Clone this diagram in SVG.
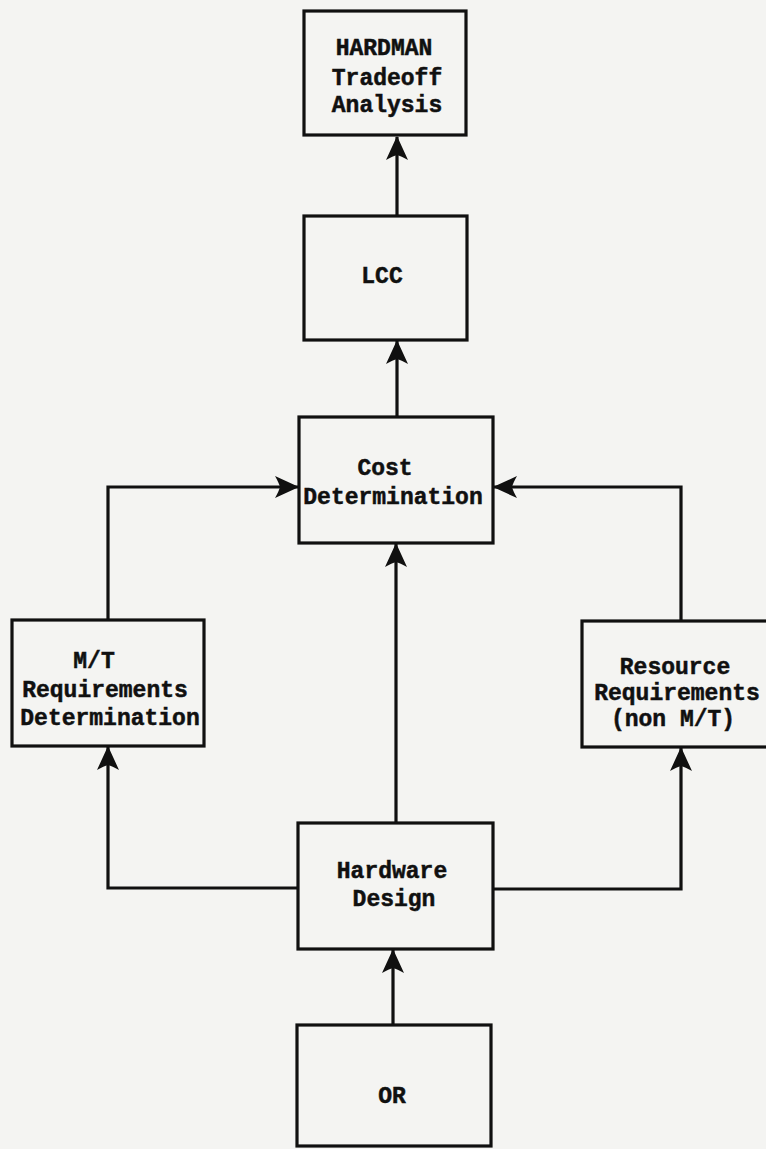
<svg xmlns="http://www.w3.org/2000/svg" width="766" height="1149" viewBox="0 0 766 1149">
  <style>
    .box { fill: none; stroke: #101010; stroke-width: 3.2; }
    .lbl { font-family: "Liberation Mono", "DejaVu Sans Mono", monospace; font-weight: bold; font-size: 23px; fill: #101010; stroke: #101010; stroke-width: 0.5; text-anchor: middle; }
    .wire { fill: none; stroke: #101010; stroke-width: 3.2; stroke-linejoin: miter; }
  </style>
  <defs>
    <!-- filled, slightly notched arrowhead used on every connector -->
    <marker id="head" viewBox="-25 -13 27 26" refX="0" refY="0" markerWidth="27" markerHeight="26" markerUnits="userSpaceOnUse" orient="auto">
      <path d="M1,0 L-23,-11 Q-19,-4 -18,0 Q-19,4 -23,11 Z" fill="#101010"/>
    </marker>
  </defs>
  <rect width="766" height="1149" fill="#f4f4f2"/>

  <g id="connectors">
    <path class="wire" d="M397,216 V137" marker-end="url(#head)"/>
    <path class="wire" d="M397,417 V341" marker-end="url(#head)"/>
    <path class="wire" d="M396,823 V544" marker-end="url(#head)"/>
    <path class="wire" d="M108,620 V487 H298" marker-end="url(#head)"/>
    <path class="wire" d="M681,621 V487 H494" marker-end="url(#head)"/>
    <path class="wire" d="M298,888 H108 V747" marker-end="url(#head)"/>
    <path class="wire" d="M493,889 H681 V748" marker-end="url(#head)"/>
    <path class="wire" d="M393,1025 V950" marker-end="url(#head)"/>
  </g>

  <g id="hardman">
    <rect class="box" x="304" y="11" width="162" height="124"/>
    <text class="lbl" x="384" y="55">HARDMAN</text>
    <text class="lbl" x="387" y="85">Tradeoff</text>
    <text class="lbl" x="387" y="112">Analysis</text>
  </g>

  <g id="lcc">
    <rect class="box" x="304" y="216" width="163" height="124"/>
    <text class="lbl" x="382" y="283">LCC</text>
  </g>

  <g id="cost">
    <rect class="box" x="299" y="417" width="194" height="126"/>
    <text class="lbl" x="385" y="475">Cost</text>
    <text class="lbl" x="393" y="504">Determination</text>
  </g>

  <g id="mt-requirements">
    <rect class="box" x="12" y="620" width="192" height="126"/>
    <text class="lbl" x="94" y="668">M/T</text>
    <text class="lbl" x="105" y="697">Requirements</text>
    <text class="lbl" x="110" y="725">Determination</text>
  </g>

  <g id="resource-requirements">
    <rect class="box" x="582" y="621" width="190" height="126"/>
    <text class="lbl" x="675" y="674">Resource</text>
    <text class="lbl" x="677" y="700">Requirements</text>
    <text class="lbl" x="673" y="726">(non M/T)</text>
  </g>

  <g id="hardware">
    <rect class="box" x="298" y="823" width="195" height="126"/>
    <text class="lbl" x="392" y="878">Hardware</text>
    <text class="lbl" x="394" y="906">Design</text>
  </g>

  <g id="or">
    <rect class="box" x="297" y="1025" width="194" height="121"/>
    <text class="lbl" x="392" y="1103">OR</text>
  </g>
</svg>
